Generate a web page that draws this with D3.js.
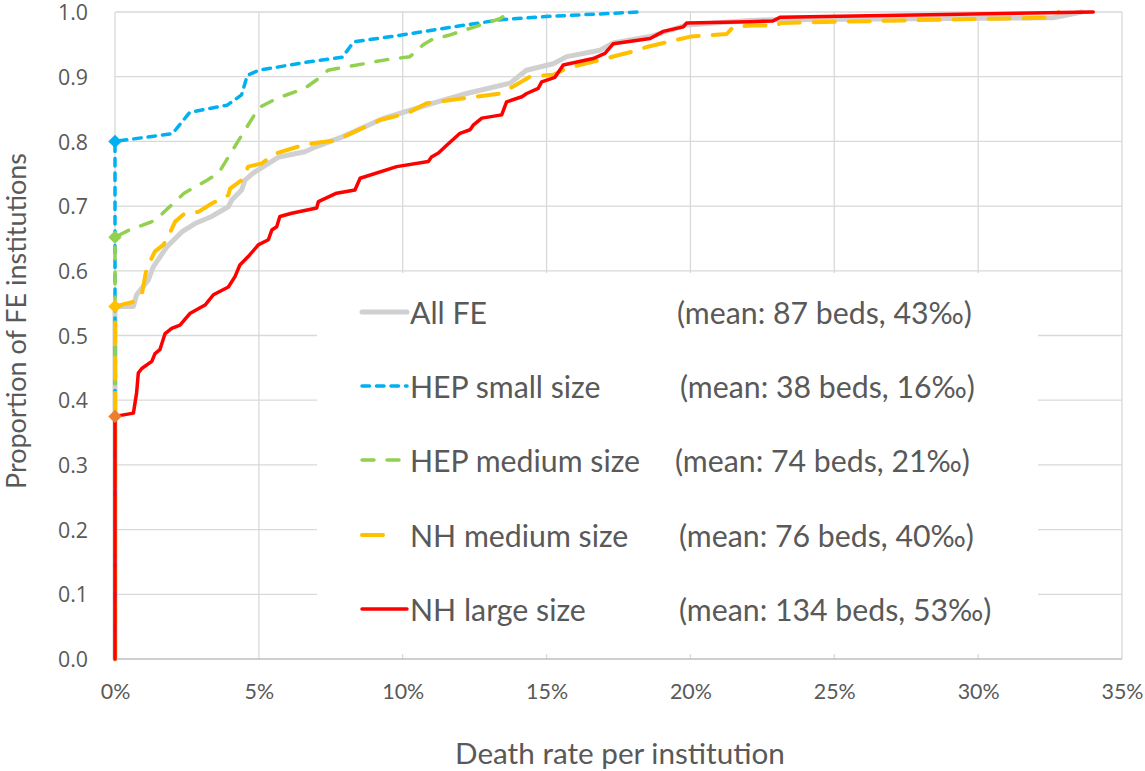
<!DOCTYPE html>
<html><head><meta charset="utf-8">
<script src="https://cdn.jsdelivr.net/npm/d3@7"></script>
<style>
html,body{margin:0;padding:0;background:#fff;}
svg{display:block;font-family:Lato, "Open Sans", sans-serif;}
</style></head>
<body><svg id="c" width="1145" height="771"></svg>
<script>
// ---------------- DATA ----------------
const xTickValues = [0, 0.05, 0.10, 0.15, 0.20, 0.25, 0.30, 0.35];
const xTickLabels = ["0%", "5%", "10%", "15%", "20%", "25%", "30%", "35%"];
const yTickValues = [0, 0.1, 0.2, 0.3, 0.4, 0.5, 0.6, 0.7, 0.8, 0.9, 1.0];
const yTickLabels = ["0.0", "0.1", "0.2", "0.3", "0.4", "0.5", "0.6", "0.7", "0.8", "0.9", "1.0"];

const seriesNames = ["All FE", "HEP small size", "HEP medium size", "NH medium size", "NH large size"];
const seriesMeans = ["(mean: 87 beds, 43‰)", "(mean: 38 beds, 16‰)", "(mean: 74 beds, 21‰)", "(mean: 76 beds, 40‰)", "(mean: 134 beds, 53‰)"];

// [death rate, cumulative proportion]
const allFE = [[0,0],[0,0.545],[0.0064,0.545],[0.0075,0.563],[0.0116,0.586],[0.0133,0.606],[0.018,0.637],[0.0232,0.66],[0.0278,0.673],[0.0336,0.684],[0.0394,0.699],[0.0405,0.709],[0.044,0.725],[0.0452,0.74],[0.048,0.751],[0.057,0.776],[0.066,0.784],[0.070,0.792],[0.079,0.807],[0.093,0.835],[0.1106,0.859],[0.1222,0.874],[0.1373,0.89],[0.143,0.91],[0.1523,0.92],[0.157,0.931],[0.1686,0.941],[0.1732,0.952],[0.186,0.962],[0.1987,0.98],[0.2207,0.987],[0.23,0.988],[0.326,0.991],[0.336,1.0]];
const hepSmall = [[0,0],[0,0.8],[0.02,0.812],[0.026,0.845],[0.039,0.856],[0.044,0.872],[0.046,0.902],[0.05,0.91],[0.066,0.922],[0.079,0.93],[0.083,0.954],[0.096,0.962],[0.119,0.978],[0.134,0.988],[0.15,0.993],[0.182,1.0]];
const hepMedium = [[0,0],[0,0.652],[0.005,0.663],[0.014,0.678],[0.024,0.72],[0.032,0.74],[0.036,0.751],[0.043,0.802],[0.05,0.852],[0.056,0.866],[0.066,0.882],[0.071,0.898],[0.074,0.91],[0.094,0.926],[0.1025,0.931],[0.107,0.949],[0.11,0.957],[0.116,0.964],[0.134,0.99],[0.137,1.0]];
const nhMedium = [[0,0],[0,0.545],[0.0064,0.552],[0.0093,0.563],[0.011,0.604],[0.0139,0.63],[0.0168,0.64],[0.0185,0.653],[0.0209,0.676],[0.0243,0.689],[0.029,0.691],[0.0336,0.704],[0.0394,0.717],[0.040,0.727],[0.044,0.74],[0.0463,0.761],[0.051,0.766],[0.0556,0.781],[0.0637,0.792],[0.069,0.797],[0.077,0.802],[0.092,0.833],[0.1014,0.843],[0.1083,0.859],[0.1338,0.874],[0.1384,0.885],[0.1442,0.9],[0.1523,0.903],[0.157,0.913],[0.1686,0.926],[0.18,0.939],[0.1848,0.946],[0.20,0.962],[0.2126,0.966],[0.2149,0.977],[0.2207,0.979],[0.23,0.979],[0.2313,0.983],[0.285,0.988],[0.3234,0.991],[0.328,1.0]];
const nhLarge = [[0,0],[0,0.375],[0.0064,0.38],[0.0075,0.411],[0.0081,0.442],[0.0093,0.449],[0.0128,0.46],[0.0139,0.472],[0.0156,0.478],[0.0174,0.503],[0.0197,0.511],[0.0226,0.516],[0.026,0.534],[0.0313,0.547],[0.0342,0.563],[0.0394,0.575],[0.0417,0.591],[0.0434,0.609],[0.0463,0.622],[0.0498,0.64],[0.0533,0.648],[0.0545,0.663],[0.0562,0.668],[0.0573,0.684],[0.0614,0.689],[0.0701,0.697],[0.0707,0.707],[0.077,0.72],[0.0834,0.725],[0.0852,0.743],[0.0979,0.761],[0.1089,0.769],[0.110,0.776],[0.1124,0.782],[0.1153,0.794],[0.1199,0.8125],[0.1234,0.818],[0.1245,0.825],[0.1275,0.836],[0.1344,0.841],[0.1361,0.861],[0.1414,0.869],[0.1431,0.874],[0.1471,0.882],[0.1483,0.892],[0.1529,0.899],[0.1558,0.918],[0.1662,0.928],[0.1703,0.936],[0.1732,0.951],[0.186,0.959],[0.1906,0.97],[0.1975,0.977],[0.1987,0.983],[0.2207,0.985],[0.2286,0.986],[0.2313,0.992],[0.34,1.0]];

// ---------------- DRAW ----------------
const svg = d3.select("#c");
const M = {left:115, right:1122, top:12, bottom:659};
const x = d3.scaleLinear().domain([0,0.35]).range([M.left, M.right]);
const y = d3.scaleLinear().domain([0,1]).range([M.bottom, M.top]);
const textColor = "#595959";
const gridColor = "#D9D9D9";

// grid
svg.append("g").selectAll("line.h").data(yTickValues.filter(v=>v>0)).join("line")
  .attr("x1", M.left).attr("x2", M.right).attr("y1", d=>y(d)).attr("y2", d=>y(d))
  .attr("stroke", gridColor).attr("stroke-width", 1.3);
svg.append("g").selectAll("line.v").data(xTickValues.filter(v=>v>0)).join("line")
  .attr("x1", d=>x(d)).attr("x2", d=>x(d)).attr("y1", M.top).attr("y2", M.bottom)
  .attr("stroke", gridColor).attr("stroke-width", 1.3);

// legend box (covers grid)
const LB = {x0:317, x1:1038, y0:273, y1:654};
svg.append("rect").attr("x", LB.x0).attr("y", LB.y0).attr("width", LB.x1-LB.x0).attr("height", LB.y1-LB.y0).attr("fill", "#fff");

// axes lines
svg.append("line").attr("x1", M.left).attr("x2", M.right).attr("y1", M.bottom).attr("y2", M.bottom)
  .attr("stroke", "#BFBFBF").attr("stroke-width", 1.3);
svg.append("line").attr("x1", M.left).attr("x2", M.left).attr("y1", M.top).attr("y2", M.bottom)
  .attr("stroke", gridColor).attr("stroke-width", 1.3);

// axis tick labels using d3 axes
const xAxis = d3.axisBottom(x).tickValues(xTickValues).tickFormat((d,i)=>xTickLabels[i]).tickSize(0).tickPadding(0);
const gx = svg.append("g").attr("transform", `translate(0,${M.bottom+33})`).call(xAxis);
gx.select(".domain").remove();
gx.selectAll("text").attr("fill", textColor).attr("dy", "0.34em").style("font-family", "Lato").style("font-size", "20px");

const yAxis = d3.axisLeft(y).tickValues(yTickValues).tickFormat((d,i)=>yTickLabels[i]).tickSize(0).tickPadding(0);
const gy = svg.append("g").attr("transform", `translate(${88},0)`).call(yAxis);
gy.select(".domain").remove();
gy.selectAll("text").attr("fill", textColor).attr("dy", "0.36em").style("font-family", "'Open Sans'").style("font-size", "19px");

// axis titles
const xt = svg.append("text").attr("x", 620).attr("y", 752).attr("text-anchor","middle").attr("dominant-baseline","central")
  .attr("fill", textColor).style("font-size","24px").text("Death rate per institution");
const yt = svg.append("text").attr("transform","translate(15,321) rotate(-90)").attr("text-anchor","middle").attr("dominant-baseline","central")
  .attr("fill", textColor).style("font-size","24px").text("Proportion of FE institutions");

// series
const seriesData = [allFE, hepSmall, hepMedium, nhMedium, nhLarge];
const styles = [
  {color:"#D0D0D0", w:5, dash:null},
  {color:"#00B0F0", w:3.5, dash:"7.5,7"},
  {color:"#92D050", w:3.5, dash:"12,13"},
  {color:"#FFC000", w:4, dash:"21,14"},
  {color:"#FF0000", w:3.5, dash:null}
];
const line = d3.line().x(d=>x(d[0])).y(d=>y(d[1]));
[0,1,2,3,4].forEach(i=>{
  svg.append("path").datum(seriesData[i]).attr("d", line).attr("fill","none")
    .attr("stroke", styles[i].color).attr("stroke-width", styles[i].w)
    .attr("stroke-linecap", "round").attr("stroke-linejoin","round")
    .attr("stroke-dasharray", styles[i].dash);
});

// start markers (diamonds)
const markerColors = [null, "#00B0F0", "#92D050", "#FFC000", "#ED7D31"];
const diamond = d3.symbol().type(d3.symbolSquare).size(90);
[1,2,3,4].forEach(i=>{
  const p = seriesData[i][1];
  svg.append("path").attr("d", diamond()).attr("fill", markerColors[i])
    .attr("transform", `translate(${x(p[0])},${y(p[1])}) rotate(45)`);
});

// legend
const rowY = [312, 386, 460, 535, 609];
const meanX = [677, 680, 675, 679, 679];
const sampleLen = [45, 45, 45, 31, 45];
const lg = svg.append("g");
seriesNames.forEach((nm,i)=>{
  lg.append("line").attr("x1", 362).attr("x2", 362+sampleLen[i]).attr("y1", rowY[i]).attr("y2", rowY[i])
    .attr("stroke", styles[i].color).attr("stroke-width", styles[i].w)
    .attr("stroke-linecap", "round").attr("stroke-dasharray", styles[i].dash);
});
const names = lg.selectAll("text.n").data(seriesNames).join("text").attr("class","n")
  .attr("x", 410).attr("y", (d,i)=>rowY[i]).attr("dominant-baseline","central")
  .attr("fill", textColor).style("font-size","26px").text(d=>d);
const means = lg.selectAll("text.m").data(seriesMeans).join("text").attr("class","m")
  .attr("x", (d,i)=>meanX[i]).attr("y", (d,i)=>rowY[i]).attr("dominant-baseline","central")
  .attr("fill", textColor).style("font-size","26px").text(d=>d);

// fit text sizes to the reference widths
function fit(sel, node, target){
  const w = node.getComputedTextLength();
  const fs = parseFloat(getComputedStyle(node).fontSize);
  sel.style("font-size", (fs*target/w).toFixed(2)+"px");
}
fit(d3.selectAll([...names.nodes(), ...means.nodes()]), means.nodes()[0], 295);
fit(gx.selectAll("text"), gx.selectAll("text").nodes()[2], 42);
fit(gy.selectAll("text"), gy.selectAll("text").nodes()[5], 30);
fit(xt, xt.node(), 330);
fit(yt, yt.node(), 336);
</script>
</body></html>
